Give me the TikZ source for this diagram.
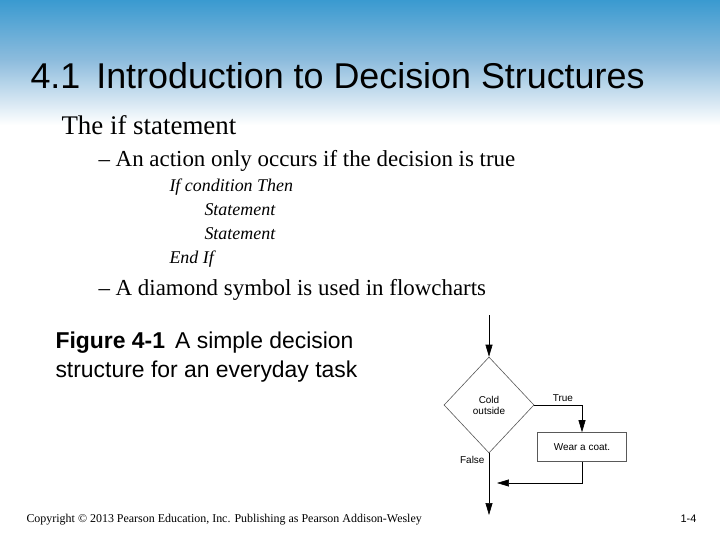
\documentclass[tikz,border=0pt]{standalone}
\usepackage{fontspec}
\setmainfont{Liberation Serif}
\setsansfont{Liberation Sans}
\usepackage{tikz}
\usetikzlibrary{positioning, arrows.meta, shapes.geometric, calc}
\definecolor{headblue}{HTML}{3A9AD0}
\definecolor{midblue}{HTML}{8DBCDD}

\begin{document}
\begin{tikzpicture}[
    x=1bp, y=-1bp,
    arrow/.style={-{Triangle[length=12pt, width=7pt]}, line width=0.6pt},
    flow/.style={line width=0.6pt, draw=gray!70!black},
    chart/.style={font=\sffamily\fontsize{10}{11}\selectfont, align=center}
]
    % === Background ===
    \useasboundingbox (0, 0) rectangle (720, 540);
    \shade[top color=headblue, bottom color=midblue] (0, 0) rectangle (720, 60);
    \shade[top color=midblue, bottom color=white] (0, 60) rectangle (720, 125);

    % Title
    \node[anchor=base west, font=\sffamily\fontsize{36}{40}\selectfont] (title) at (27, 89) {4.1\, Introduction to Decision Structures};

    % === Bullets ===
    \node[anchor=base west, font=\fontsize{27}{29}\selectfont] (ifst) at (58, 135) {The if statement};
    \node[anchor=base west, font=\fontsize{23}{25}\selectfont] (action) at (95, 167) {– An action only occurs if the decision is true};
    \node[anchor=base west, font=\itshape\fontsize{18}{20}\selectfont] (c1) at (166, 192) {If condition Then};
    \node[anchor=base west, font=\itshape\fontsize{18}{20}\selectfont] (c2) at (201, 216) {Statement};
    \node[anchor=base west, font=\itshape\fontsize{18}{20}\selectfont] (c3) at (201, 240) {Statement};
    \node[anchor=base west, font=\itshape\fontsize{18}{20}\selectfont] (c4) at (166, 264) {End If};
    \node[anchor=base west, font=\fontsize{23}{25}\selectfont] (diam) at (95, 295) {– A diamond symbol is used in flowcharts};

    % Caption
    \node[anchor=north west, align=left, font=\sffamily\fontsize{23}{29}\selectfont] (cap) at (52, 328)
        {\textbf{Figure 4-1}\, A simple decision\\structure for an everyday task};

    % === Flowchart ===
    \coordinate (start) at (489, 315);
    \node[chart, diamond, flow, minimum width=90bp, minimum height=96bp, inner sep=0pt] (cold) at (489, 405) {Cold\\outside};
    \node[chart, rectangle, flow, minimum width=89bp, minimum height=29bp] (coat) at (582, 447) {Wear a coat.};
    \coordinate (join) at (497, 483);
    \coordinate (finish) at (489, 515);

    \draw[arrow] (start) -- (cold.north);
    \draw[arrow] (cold.east) -| node[chart, pos=0.3, above] {True} (coat.north);
    \draw[arrow] (cold.south) -- (finish);
    \draw[arrow] (coat.south) |- (join);
    \node[chart, left=1bp] (false) at (489, 460) {False};

    % Footer
    \node[anchor=base west, font=\fontsize{12}{14}\selectfont] (copy) at (23, 522) {Copyright © 2013 Pearson Education, Inc. Publishing as Pearson Addison-Wesley};
    \node[anchor=base east, font=\sffamily\fontsize{11}{13}\selectfont] (page) at (700, 522) {1-4};
\end{tikzpicture}
\end{document}
